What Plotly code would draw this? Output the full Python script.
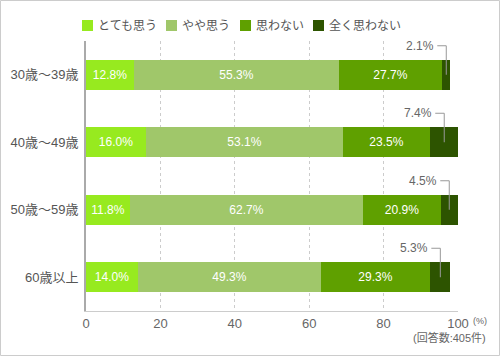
import plotly.graph_objects as go

categories = ["30歳～39歳", "40歳～49歳", "50歳～59歳", "60歳以上"]
series_names = ["とても思う", "やや思う", "思わない", "全く思わない"]
very_agree = [12.8, 16.0, 11.8, 14.0]
somewhat_agree = [55.3, 53.1, 62.7, 49.3]
disagree = [27.7, 23.5, 20.9, 29.3]
strongly_disagree = [2.1, 7.4, 4.5, 5.3]
x_ticks = [0, 20, 40, 60, 80, 100]
note_unit = "(%)"
note_n = "(回答数:405件)"

colors = ["#97ea1f", "#a0c76a", "#5fa000", "#2d5400"]
FONT = "Liberation Sans, Noto Sans CJK JP, sans-serif"

W, H = 500, 356
L, R, T, B = 86, 42, 41, 45
pw, ph = W - L - R, H - T - B
px_x = 100 / pw  # data units per pixel horizontally
px_y = 4 / ph    # data units per pixel vertically

def paper_x(p):
    return (p - L) / pw

def paper_y(p):
    return 1 - (p - T) / ph

all_series = [very_agree, somewhat_agree, disagree, strongly_disagree]
ypos = list(range(len(categories)))

fig = go.Figure()
for i, (name, vals) in enumerate(zip(series_names, all_series)):
    txt = [f"{v:.1f}%" for v in vals] if i < 3 else ["" for _ in vals]
    fig.add_trace(go.Bar(
        y=ypos, x=vals, orientation="h", name=name,
        marker=dict(color=colors[i], line=dict(width=0)),
        width=0.445,
        text=txt, textposition="inside", insidetextanchor="middle",
        textfont=dict(color="white", size=12, family=FONT),
        textangle=0, showlegend=False, hoverinfo="skip",
    ))

shapes = []
annotations = []
# outside labels with elbow leader lines for last segment
for j in range(len(categories)):
    start = very_agree[j] + somewhat_agree[j] + disagree[j]
    v = strongly_disagree[j]
    cx = start + v / 2
    ty = j - 29 * px_y
    shapes.append(dict(
        type="path", xref="x", yref="y",
        path=f"M {cx - 9*px_x} {ty} L {cx} {ty} L {cx} {j}",
        line=dict(color="#999999", width=1),
    ))
    annotations.append(dict(
        x=cx - 10 * px_x, y=ty, xref="x", yref="y",
        text=f"{v:.1f}%", showarrow=False, xanchor="right", yanchor="middle",
        font=dict(size=12, color="#666666", family=FONT),
    ))

# manual legend
leg_x = [82, 166, 240, 313]
for name, c, lx in zip(series_names, colors, leg_x):
    shapes.append(dict(
        type="rect", xref="paper", yref="paper",
        x0=paper_x(lx), x1=paper_x(lx + 11), y0=paper_y(31), y1=paper_y(20),
        fillcolor=c, line=dict(width=0),
    ))
    annotations.append(dict(
        x=paper_x(lx + 14), y=paper_y(25.5), xref="paper", yref="paper",
        text=name, showarrow=False, xanchor="left", yanchor="middle",
        font=dict(size=12, color="#555555", family=FONT),
    ))

annotations.append(dict(
    x=paper_x(471), y=paper_y(321), xref="paper", yref="paper",
    text=note_unit, showarrow=False, xanchor="left", yanchor="middle",
    font=dict(size=9, color="#666666", family=FONT),
))
annotations.append(dict(
    x=paper_x(488), y=paper_y(337), xref="paper", yref="paper",
    text=note_n, showarrow=False, xanchor="right", yanchor="middle",
    font=dict(size=11, color="#666666", family=FONT),
))

# outer border
shapes.append(dict(
    type="rect", xref="paper", yref="paper",
    x0=paper_x(0.5), x1=paper_x(W - 0.5), y0=paper_y(H - 0.5), y1=paper_y(0.5),
    line=dict(color="#cccccc", width=1), fillcolor="rgba(0,0,0,0)", layer="below",
))

fig.update_layout(
    width=W, height=H, barmode="stack",
    margin=dict(l=L, r=R, t=T, b=B, autoexpand=False),
    paper_bgcolor="white", plot_bgcolor="white",
    font=dict(family=FONT, color="#555555"),
    shapes=shapes, annotations=annotations,
    bargap=0,
)
fig.update_xaxes(
    range=[0, 100], tickvals=x_ticks, ticktext=[str(t) for t in x_ticks],
    showgrid=True, gridcolor="#cccccc", griddash="dot", gridwidth=1,
    showline=True, linecolor="#cccccc", linewidth=1,
    zeroline=False, ticks="",
    tickfont=dict(size=13, color="#666666", family=FONT),
    fixedrange=True,
)
fig.update_yaxes(
    range=[3.5, -0.5], tickvals=ypos, ticktext=categories,
    showgrid=False, zeroline=False,
    showline=True, linecolor="#aaaaaa", linewidth=2,
    ticks="", ticklabelstandoff=3,
    tickfont=dict(size=13, color="#555555", family=FONT),
    fixedrange=True,
)

fig.write_html(
    "out.html",
    config={"displayModeBar": False},
    post_script="document.body.style.margin='0';document.body.style.overflow='hidden';",
)
